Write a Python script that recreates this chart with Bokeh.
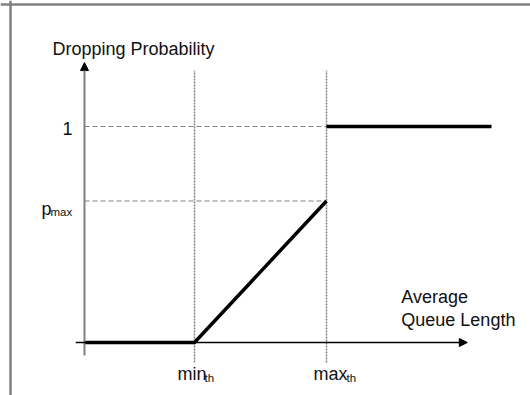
from bokeh.plotting import figure
from bokeh.models import Arrow, NormalHead, Span, Range1d
from bokeh.core.properties import value
from bokeh.embed import file_html
from bokeh.resources import INLINE

# ---- data (queue length units, probability) ----
min_th = 5.0
max_th = 11.0
p_max = 0.655
queue_end = 18.5

ramp_q = [0.0, min_th, max_th]
ramp_p = [0.0, 0.0, p_max]
top_q = [max_th, queue_end]
top_p = [1.0, 1.0]

guide_levels = [1.0, p_max]          # horizontal dashed guides
threshold_q = [min_th, max_th]       # vertical dotted guides

x_axis_extent = (-0.4, 17.4)
y_axis_extent = (-0.06, 1.296)
guide_top = 1.259
guide_bottom = -0.093

FONT = "Liberation Sans"
TXT = "#111111"
GRAY = "#808080"

W, H = 530, 395
PX, PY = 22.0, 216.0     # pixels per data unit
OX, OY = 84.0, 342.0     # pixel position of the origin

p = figure(width=W, height=H, output_backend="svg", toolbar_location=None,
           x_axis_type=None, y_axis_type=None, min_border=0,
           x_range=Range1d(-OX / PX, (W - OX) / PX),
           y_range=Range1d(-(H - OY) / PY, OY / PY))
p.grid.visible = False
p.outline_line_color = None
p.background_fill_color = "white"
p.border_fill_color = "white"

# frame (left and top edges)
p.add_layout(Span(location=(10 - OX) / PX, dimension="height", line_color=GRAY, line_width=2.5))
p.add_layout(Span(location=(OY - 4) / PY, dimension="width", line_color=GRAY, line_width=2.5))

# guides
for lvl in guide_levels:
    p.line([0, max_th], [lvl, lvl], line_color=GRAY, line_width=1.2, line_dash="5 3")
for q in threshold_q:
    p.line([q, q], [guide_bottom, guide_top], line_color=GRAY, line_width=1.5, line_dash="2 1")

# axes with arrows
p.add_layout(Arrow(end=NormalHead(size=8, fill_color="black", line_color="black"),
                   x_start=0, y_start=y_axis_extent[0], x_end=0, y_end=y_axis_extent[1],
                   line_color=GRAY, line_width=2))
p.add_layout(Arrow(end=NormalHead(size=8, fill_color="black", line_color="black"),
                   x_start=x_axis_extent[0], y_start=0, x_end=x_axis_extent[1], y_end=0,
                   line_color="black", line_width=1.5))

# drop-probability curve
p.line(ramp_q, ramp_p, line_color="black", line_width=3.5, line_join="miter")
p.line(top_q, top_p, line_color="black", line_width=3.5)

def label(x, y, txt, size, dx, dy, align="left"):
    p.text(x=[x], y=[y], text=[txt], text_font=value(FONT), text_font_size=size,
           text_color=TXT, text_align=align, text_baseline="alphabetic",
           x_offset=dx, y_offset=dy)

BIG = "18px"
SMALL = "11.5px"
label(0, y_axis_extent[1], "Dropping Probability", BIG, -32, -14)
label(0, 1.0, "1", BIG, -17, 2, "center")
label(0, p_max, "p", BIG, -43, 7.5)
label(0, p_max, "max", SMALL, -34, 11)
label(min_th, 0, "min", BIG, -17, 31)
label(min_th, 0, "th", SMALL, 10, 35)
label(max_th, 0, "max", BIG, -13, 31)
label(max_th, 0, "th", SMALL, 20, 35)
label(x_axis_extent[1], 0, "Average", BIG, -66, -46)
label(x_axis_extent[1], 0, "Queue Length", BIG, -66, -23)

open("out.html", "w").write(file_html(p, INLINE))
